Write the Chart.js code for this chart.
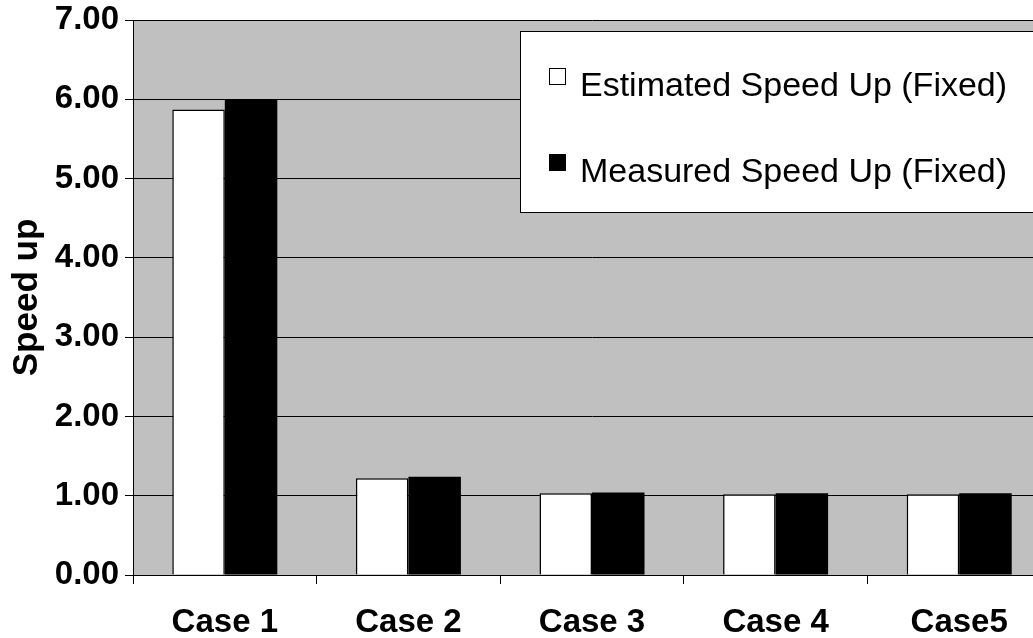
<!DOCTYPE html>
<html lang="en">
<head>
  <meta charset="UTF-8" />
  <title>Speed up</title>
  <style>
    body {
      margin: 0;
      padding: 0;
      background: #fff;
      overflow: hidden;
    }
    .wrap {
      position: relative;
      width: 1056px;
      height: 638px;
    }
  </style>
</head>
<body>
  <div class="wrap">
    <canvas id="speedChart"></canvas>
  </div>

<script src="https://cdn.jsdelivr.net/npm/chart.js@4.4.0/dist/chart.umd.min.js"></script>
<script>
  // values
  const cases = ["Case 1", "Case 2", "Case 3", "Case 4", "Case5"];
  const estimated = [5.87, 1.22, 1.03, 1.02, 1.02];
  const measured = [5.99, 1.24, 1.04, 1.03, 1.03];
  const yTicks = [0, 1, 2, 3, 4, 5, 6, 7];

  const FONT = "Arial, 'Liberation Sans', sans-serif";

  // gray plot background
  const plotBg = {
    id: "plotBg",
    beforeDraw(chart) {
      const { ctx, chartArea: a } = chart;
      ctx.save();
      ctx.fillStyle = "#c0c0c0";
      ctx.fillRect(a.left, a.top, a.right - a.left, a.bottom - a.top);
      ctx.restore();
    }
  };

  // boxed legend in the top right corner, like the original
  const boxLegend = {
    id: "boxLegend",
    afterDraw(chart) {
      const ctx = chart.ctx;
      const sets = chart.data.datasets;
      ctx.save();
      ctx.fillStyle = "#fff";
      ctx.strokeStyle = "#000";
      ctx.lineWidth = 1;
      ctx.fillRect(521, 32, 530, 181);
      ctx.strokeRect(520.5, 31.5, 531, 181);
      ctx.font = "34px " + FONT;
      ctx.textBaseline = "alphabetic";
      sets.forEach((ds, i) => {
        const base = 96 + i * 86;
        ctx.fillStyle = ds.backgroundColor;
        ctx.fillRect(549.5, base - 27.5, 16, 16);
        ctx.strokeStyle = "#000";
        ctx.strokeRect(549.5, base - 27.5, 16, 16);
        ctx.fillStyle = "#000";
        ctx.fillText(ds.label, 580, base);
      });
      ctx.restore();
    }
  };

  new Chart(document.getElementById("speedChart"), {
    type: "bar",
    data: {
      labels: cases,
      datasets: [
        {
          label: "Estimated Speed Up (Fixed)",
          data: estimated,
          backgroundColor: "#ffffff",
          borderColor: "#000000",
          borderWidth: 1.5,
          categoryPercentage: 0.572,
          barPercentage: 1.0
        },
        {
          label: "Measured Speed Up (Fixed)",
          data: measured,
          backgroundColor: "#000000",
          borderColor: "#000000",
          borderWidth: 0,
          categoryPercentage: 0.572,
          barPercentage: 1.0
        }
      ]
    },
    options: {
      responsive: true,
      maintainAspectRatio: false,
      animation: false,
      layout: { padding: { left: 0, top: 20, right: 5, bottom: 0 } },
      plugins: {
        legend: { display: false },
        tooltip: { enabled: false }
      },
      scales: {
        x: {
          grid: {
            offset: true,
            drawOnChartArea: false,
            drawTicks: true,
            tickLength: 9,
            color: "#000"
          },
          border: { color: "#000", width: 1 },
          ticks: {
            color: "#000",
            font: { family: FONT, size: 33, weight: "bold" },
            padding: 19,
            maxRotation: 0,
            autoSkip: false
          },
          afterFit(scale) {
            scale.height = 63;
            scale.paddingLeft = 0;
            scale.paddingRight = 0;
          }
        },
        y: {
          min: 0,
          max: 7,
          afterBuildTicks(scale) {
            scale.ticks = yTicks.map(v => ({ value: v }));
          },
          grid: {
            color: "#000",
            lineWidth: 1,
            tickLength: 8
          },
          border: { color: "#000", width: 1 },
          ticks: {
            color: "#000",
            font: { family: FONT, size: 33, weight: "bold" },
            padding: 6,
            callback: v => Number(v).toFixed(2)
          },
          title: {
            display: true,
            text: "Speed up",
            color: "#000",
            font: { family: FONT, size: 35, weight: "bold" },
            padding: { top: 6, bottom: 0 }
          },
          afterFit(scale) {
            scale.width = 133;
            scale.paddingTop = 0;
            scale.paddingBottom = 0;
          }
        }
      }
    },
    plugins: [plotBg, boxLegend]
  });
</script>
</body>
</html>
